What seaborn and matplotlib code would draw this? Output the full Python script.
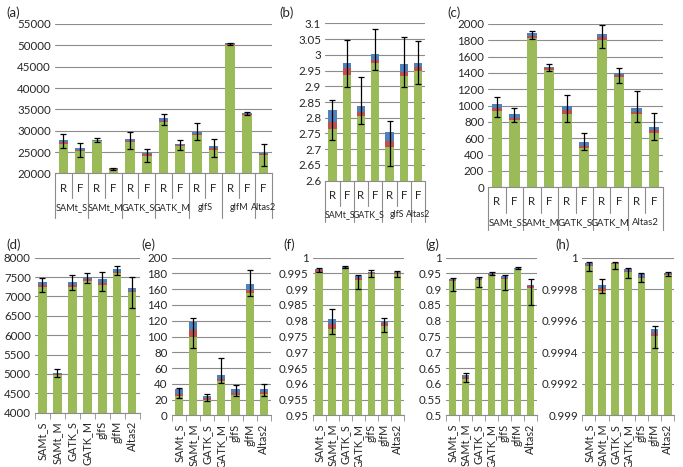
import numpy as np
import pandas as pd
import matplotlib
matplotlib.use('Agg')
import matplotlib.pyplot as plt
import matplotlib.transforms as mtransforms
import seaborn as sns

GREEN = '#9bbb59'
RED = '#c0504d'
BLUE = '#4f81bd'
GREY = '#8c8c8c'

tools7 = ['SAMt_S', 'SAMt_M', 'GATK_S', 'GATK_M', 'glfS', 'glfM', 'Altas2']

# (a) read / fragment bars, grouped by tool
a_sub = ['R', 'F', 'R', 'F', 'R', 'F', 'R', 'F', 'R', 'F', 'R', 'F', 'F']
a_groups = ['SAMt_S', 'SAMt_M', 'GATK_S', 'GATK_M', 'glfS', 'glfM', 'Altas2']
a_sizes = [2, 2, 2, 2, 2, 2, 1]
a_green = [27000, 25300, 27500, 20900, 27300, 24200, 32100, 26500, 28900, 25600, 50100, 33800, 24400]
a_red = [27300, 25600, 27700, 21050, 27600, 24500, 32400, 26700, 29300, 26000, 50250, 33950, 24650]
a_blue = [27800, 25900, 27900, 21200, 28100, 24800, 32900, 26900, 29800, 26500, 50450, 34100, 24850]
a_lo = [26000, 23900, 27300, 20800, 25800, 22800, 31400, 25600, 27800, 23900, 50000, 33600, 21800]
a_hi = [29200, 27250, 28400, 21400, 29800, 25800, 33900, 27900, 31800, 28100, 50600, 34400, 26800]

# (b)
b_sub = ['R', 'F', 'R', 'F', 'R', 'F', 'F']
b_groups = ['SAMt_S', 'GATK_S', 'glfS', 'Altas2']
b_sizes = [2, 2, 2, 1]
b_green = [2.764, 2.935, 2.806, 2.973, 2.708, 2.932, 2.948]
b_red = [2.787, 2.958, 2.817, 2.985, 2.725, 2.945, 2.962]
b_blue = [2.824, 2.973, 2.836, 3.004, 2.755, 2.972, 2.975]
b_lo = [2.729, 2.897, 2.780, 2.953, 2.646, 2.897, 2.908]
b_hi = [2.856, 3.047, 2.929, 3.083, 2.789, 3.055, 3.044]

# (c)
c_sub = ['R', 'F'] * 5
c_groups = ['SAMt_S', 'SAMt_M', 'GATK_S', 'GATK_M', 'Altas2']
c_sizes = [2, 2, 2, 2, 2]
c_green = [930, 824, 1830, 1440, 900, 480, 1800, 1345, 900, 670]
c_red = [971, 845, 1850, 1455, 945, 510, 1835, 1375, 925, 700]
c_blue = [1016, 894, 1885, 1475, 1000, 555, 1875, 1405, 975, 735]
c_lo = [857, 800, 1815, 1430, 800, 460, 1700, 1280, 800, 575]
c_hi = [1102, 970, 1915, 1505, 1125, 670, 1985, 1460, 1185, 910]

# (d) - (h), one bar per tool
d_green = [7240, 4970, 7240, 7400, 7300, 7610, 7110]
d_red = [7290, 5000, 7300, 7440, 7350, 7640, 7140]
d_blue = [7380, 5030, 7380, 7500, 7440, 7710, 7220]
d_lo = [7120, 4920, 7160, 7340, 7140, 7550, 6700]
d_hi = [7480, 5140, 7560, 7610, 7640, 7780, 7500]

e_green = [25, 100, 19.5, 44, 25.8, 155.6, 27]
e_red = [27, 108, 21.6, 46, 28, 159, 29]
e_blue = [33.4, 118, 24.5, 50.7, 33.8, 167, 34]
e_lo = [22, 86, 18, 40.6, 24.5, 151, 25]
e_hi = [34.5, 123, 26.6, 72.7, 38.9, 184, 40]

f_green = [0.9952, 0.9774, 0.9965, 0.9930, 0.9948, 0.9783, 0.9948]
f_red = [0.9960, 0.9790, 0.9968, 0.9936, 0.9953, 0.9792, 0.9951]
f_blue = [0.9965, 0.9806, 0.9971, 0.9941, 0.9956, 0.9800, 0.9955]
f_lo = [0.9956, 0.9757, 0.9966, 0.9900, 0.9938, 0.9765, 0.9940]
f_hi = [0.9968, 0.9837, 0.9973, 0.9946, 0.9961, 0.9808, 0.9958]

g_green = [0.925, 0.615, 0.928, 0.946, 0.933, 0.963, 0.905]
g_red = [0.928, 0.620, 0.931, 0.948, 0.937, 0.965, 0.910]
g_blue = [0.932, 0.627, 0.935, 0.951, 0.941, 0.967, 0.914]
g_lo = [0.895, 0.607, 0.908, 0.945, 0.897, 0.963, 0.850]
g_hi = [0.935, 0.634, 0.940, 0.955, 0.946, 0.970, 0.934]

h_green = [0.99995, 0.99979, 0.99996, 0.99991, 0.99987, 0.99950, 0.99989]
h_red = [0.999955, 0.99981, 0.999964, 0.999918, 0.99988, 0.999525, 0.999897]
h_blue = [0.999964, 0.999825, 0.999968, 0.999926, 0.999894, 0.999545, 0.999905]
h_lo = [0.999915, 0.999774, 0.99993, 0.999873, 0.999848, 0.999425, 0.999885]
h_hi = [0.999975, 0.999863, 0.99997, 0.999932, 0.999901, 0.999565, 0.99991]

W, H = 683, 467
FS = 8.3
sns.set_style('white')
plt.rcParams['font.family'] = ['Lato', 'DejaVu Sans']
fig = plt.figure(figsize=(W / 100, H / 100), dpi=100)


def make_ax(L, T, R, B):
    return fig.add_axes([L / W, 1 - B / H, (R - L) / W, (B - T) / H])


def bars(ax, green, red, blue, lo, hi, ymin, ymax, step):
    n = len(green)
    df = pd.DataFrame({'pos': np.arange(n), 'green': green, 'red': red, 'blue': blue})
    for col, colr in [('blue', BLUE), ('red', RED), ('green', GREEN)]:
        sns.barplot(data=df, x='pos', y=col, native_scale=True, color=colr, saturation=1,
                    width=0.58, errorbar=None, edgecolor='none', ax=ax, zorder=2)
    lo = np.array(lo)
    hi = np.array(hi)
    ax.errorbar(np.arange(n), (lo + hi) / 2, yerr=(hi - lo) / 2, fmt='none', ecolor='black',
                elinewidth=0.9, capsize=2.3, capthick=0.9, zorder=3)
    ax.set_xlim(-0.5, n - 0.5)
    ax.set_ylim(ymin, ymax)
    ticks = np.arange(ymin, ymax + step / 2, step)
    ax.set_yticks(ticks)
    ax.set_yticklabels([f'{round(t, 6):g}' for t in ticks])
    ax.set_axisbelow(True)
    ax.yaxis.grid(True, color=GREY, lw=0.8)
    for s in ['top', 'right', 'left']:
        ax.spines[s].set_visible(False)
    ax.spines['bottom'].set_color(GREY)
    ax.tick_params(axis='y', length=0, pad=3, labelsize=FS)
    ax.set_xlabel('')
    ax.set_ylabel('')


def multilevel(ax, sub, groups, sizes, d_sub, d_grp, l_short, l_long, gfs):
    n = len(sub)
    ax.set_xticks([])
    hpx = ax.get_position().height * H
    tr = mtransforms.blended_transform_factory(ax.transData, ax.transAxes)
    for i, s in enumerate(sub):
        ax.text(i, -d_sub / hpx, s, transform=tr, ha='center', va='center', fontsize=FS)
    edges = np.cumsum([0] + sizes)
    for b in range(n + 1):
        ln = l_long if b in edges else l_short
        ax.plot([b - 0.5, b - 0.5], [0, -ln / hpx], color=GREY, lw=0.8, transform=tr, clip_on=False)
    for g, s0, sz in zip(groups, edges[:-1], sizes):
        ax.text(s0 + sz / 2 - 0.5, -d_grp / hpx, g, transform=tr, ha='center', va='center',
                fontsize=gfs)


def rotated(ax, labels):
    n = len(labels)
    ax.set_xticks(np.arange(n))
    ax.set_xticklabels(labels, rotation=90, fontsize=7.8)
    ax.set_xticks(np.arange(n + 1) - 0.5, minor=True)
    ax.tick_params(axis='x', which='major', length=0, pad=6)
    ax.tick_params(axis='x', which='minor', length=4, color=GREY, direction='out', bottom=True)


def tag(x, y, s):
    fig.text(x / W, 1 - y / H, s, fontsize=9.5, ha='left', va='center')


# top row
ax = make_ax(55, 24, 272, 173.5)
bars(ax, a_green, a_red, a_blue, a_lo, a_hi, 20000, 55000, 5000)
multilevel(ax, a_sub, a_groups, a_sizes, 15.5, 34.5, 24.5, 44.5, 6.6)
tag(6, 13, '(a)')

ax = make_ax(325.3, 23.3, 425.3, 180.7)
bars(ax, b_green, b_red, b_blue, b_lo, b_hi, 2.6, 3.1, 0.05)
multilevel(ax, b_sub, b_groups, b_sizes, 15, 34, 25, 41, 6.3)
tag(279, 13, '(b)')

ax = make_ax(488.3, 24, 662.7, 187.3)
bars(ax, c_green, c_red, c_blue, c_lo, c_hi, 0, 2000, 200)
multilevel(ax, c_sub, c_groups, c_sizes, 14.4, 35.4, 26, 43, 6.9)
tag(447, 13, '(c)')

# bottom row
panels = [
    ((35, 257.7, 139.5, 412.7), d_green, d_red, d_blue, d_lo, d_hi, 4000, 8000, 500, (6, 245, '(d)')),
    ((171.7, 257.7, 271, 415.3), e_green, e_red, e_blue, e_lo, e_hi, 0, 200, 20, (141, 245, '(e)')),
    ((312.7, 257.7, 404, 415.3), f_green, f_red, f_blue, f_lo, f_hi, 0.95, 1.0, 0.005, (283, 245, '(f)')),
    ((446, 257.7, 537, 415.3), g_green, g_red, g_blue, g_lo, g_hi, 0.5, 1.0, 0.05, (425, 245, '(g)')),
    ((582.3, 257.7, 674.3, 415.3), h_green, h_red, h_blue, h_lo, h_hi, 0.999, 1.0, 0.0002, (555, 245, '(h)')),
]
for box, gr, rd, bl, lo, hi, y0, y1, st, tg in panels:
    ax = make_ax(*box)
    bars(ax, gr, rd, bl, lo, hi, y0, y1, st)
    rotated(ax, tools7)
    tag(*tg)

fig.savefig('out.png', dpi=100)
